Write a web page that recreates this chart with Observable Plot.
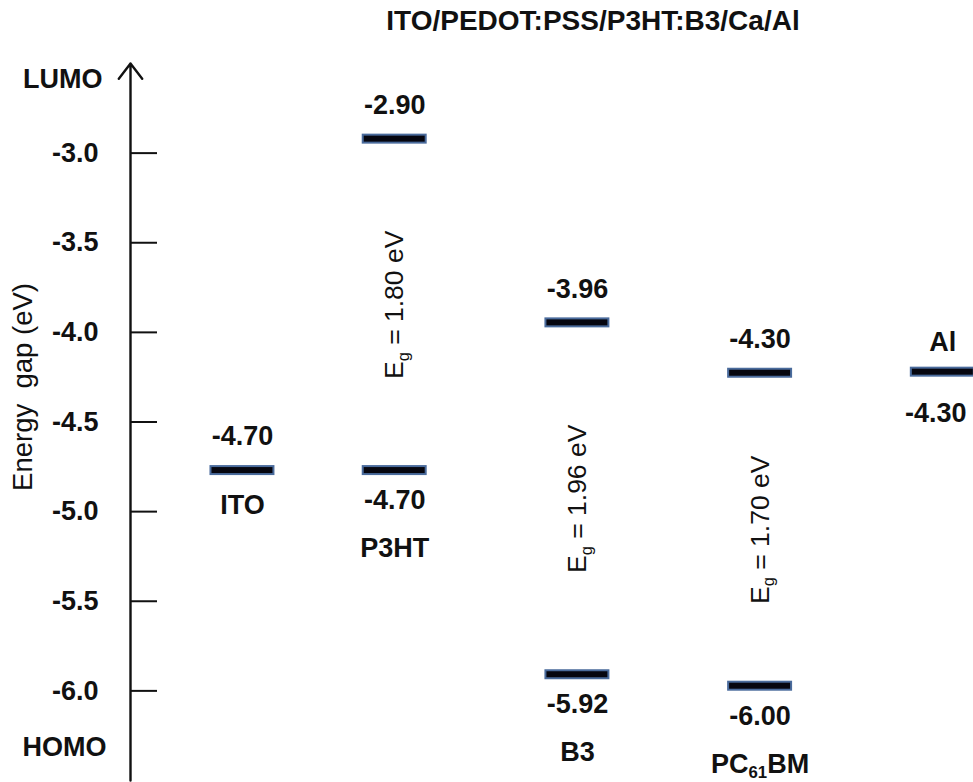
<!DOCTYPE html>
<html><head><meta charset="utf-8">
<script src="https://cdn.jsdelivr.net/npm/d3@7"></script>
<script src="https://cdn.jsdelivr.net/npm/@observablehq/plot@0.6"></script>
<style>
body{margin:0;background:#fff;}
#wrap{position:relative;width:973px;height:782px;font-family:"Liberation Sans",Arial,sans-serif;}
#title{position:absolute;top:7px;left:593px;transform:translateX(-50%);font-size:28px;line-height:28px;font-weight:bold;white-space:nowrap;color:#111;}
#chart{position:absolute;left:0;top:0;}
#chart svg text{white-space:pre;}
</style></head><body>
<div id="wrap"><div id="chart"></div><div id="title">ITO/PEDOT:PSS/P3HT:B3/Ca/Al</div></div>
<script>
// ---- data ----
const columns = ["ITO", "P3HT", "B3", "PC61BM", "Al"];
// drawn level positions (eV)
const lumo = [null, -2.922, -3.947, -4.228, null];
const homo = [null, -4.771, -5.910, -5.974, null];
const workFunction = [-4.771, null, null, null, -4.222];
// printed level labels
const lumoLabel = [null, "-2.90", "-3.96", "-4.30", null];
const homoLabel = [null, "-4.70", "-5.92", "-6.00", null];
const wfLabel = ["-4.70", null, null, null, "-4.30"];
const gapLabel = [null, "1.80", "1.96", "1.70", null];
const yTicks = [-3.0, -3.5, -4.0, -4.5, -5.0, -5.5, -6.0];
const yDomain = [-6.5, -2.5];

// ---- layout: horizontal slots of the schematic ----
const columnSlot = [0, 5, 11, 17, 23];
const xDomain = [-3.677, 24.008];
const halfBar = 1.034;

// ---- build tables ----
const bars = [];
columns.forEach((c, i) => {
  const s = columnSlot[i];
  if (lumo[i] != null) bars.push({col: s, e: lumo[i], label: lumoLabel[i], side: "above"});
  if (homo[i] != null) bars.push({col: s, e: homo[i], label: homoLabel[i], side: "below"});
  if (workFunction[i] != null) bars.push({col: s, e: workFunction[i], label: wfLabel[i], side: i === 0 ? "above" : "wfBelow"});
});
const names = columns.map((c, i) => {
  const s = columnSlot[i];
  if (homo[i] != null) return {col: s, e: homo[i], name: c, pos: "belowLabel"};
  return {col: s, e: workFunction[i], name: c, pos: i === 0 ? "below" : "above"};
});
const gaps = columns.map((c, i) => gapLabel[i] == null ? null : {col: columnSlot[i], e: (lumo[i] + homo[i]) / 2, text: `Eg = ${gapLabel[i]} eV`}).filter(d => d);

const FONT = "Liberation Sans, Arial, sans-serif";
const INK = "#111";
const bold = {fontSize: 27, fontWeight: "bold", fill: INK};

const chart = Plot.plot({
  width: 973, height: 782,
  marginLeft: 130, marginRight: 0, marginTop: 63, marginBottom: 2,
  style: {fontFamily: FONT, background: "white", color: INK},
  x: {domain: xDomain, axis: null},
  y: {domain: yDomain, axis: null},
  marks: [
    Plot.tickY(yTicks, {y: d => d, insetRight: 816, stroke: INK, strokeWidth: 2}),
    Plot.arrow([0], {x1: xDomain[0], x2: xDomain[0], y1: yDomain[0], y2: yDomain[1], stroke: INK, strokeWidth: 2.4, headLength: 12, headAngle: 75}),
    Plot.text(yTicks, {y: d => d, text: d => d.toFixed(1), frameAnchor: "left", textAnchor: "end", dx: -32, ...bold}),
    Plot.text(["LUMO"], {text: d => d, frameAnchor: "top-left", textAnchor: "end", dx: -28, dy: 5, ...bold}),
    Plot.text(["HOMO"], {text: d => d, frameAnchor: "bottom-left", textAnchor: "end", dx: -24, dy: -25, ...bold}),
    Plot.text(["Energy  gap (eV)"], {text: d => d, frameAnchor: "left", textAnchor: "middle", rotate: -90, dx: -107, dy: -35, fontSize: 27.5, fill: INK}),
    Plot.rect(bars, {x1: d => d.col - halfBar, x2: d => d.col + halfBar, y1: "e", y2: "e", insetTop: -4, insetBottom: -4, fill: "#06060f", stroke: "#4a6b9c", strokeWidth: 2}),
    Plot.text(bars.filter(d => d.side === "above"), {x: "col", y: "e", text: "label", dy: -34, ...bold}),
    Plot.text(bars.filter(d => d.side === "below"), {x: "col", y: "e", text: "label", dy: 30, ...bold}),
    Plot.text(bars.filter(d => d.side === "wfBelow"), {x: "col", y: "e", text: "label", dy: 41, dx: -7, ...bold}),
    Plot.text(names.filter(d => d.pos === "below"), {x: "col", y: "e", text: "name", dy: 35, ...bold}),
    Plot.text(names.filter(d => d.pos === "above"), {x: "col", y: "e", text: "name", dy: -30, ...bold}),
    Plot.text(names.filter(d => d.pos === "belowLabel"), {x: "col", y: "e", text: "name", dy: 78, ...bold}),
    Plot.text(gaps, {x: "col", y: "e", text: "text", rotate: -90, fontSize: 26.5, fill: INK})
  ]
});

// subscripts
d3.select(chart).selectAll("text").each(function() {
  const t = this.textContent;
  const sel = d3.select(this);
  if (/^Eg = /.test(t)) {
    sel.text(null);
    sel.append("tspan").text("E");
    sel.append("tspan").attr("font-size", "0.62em").attr("dy", "0.35em").text("g");
    sel.append("tspan").attr("dy", "-0.22em").text(t.slice(2));
  } else if (t === "PC61BM") {
    sel.text(null);
    sel.append("tspan").text("PC");
    sel.append("tspan").attr("font-size", "0.62em").attr("dy", "0.3em").text("61");
    sel.append("tspan").attr("dy", "-0.19em").text("BM");
  }
});

document.getElementById("chart").appendChild(chart);
</script>
</body></html>
